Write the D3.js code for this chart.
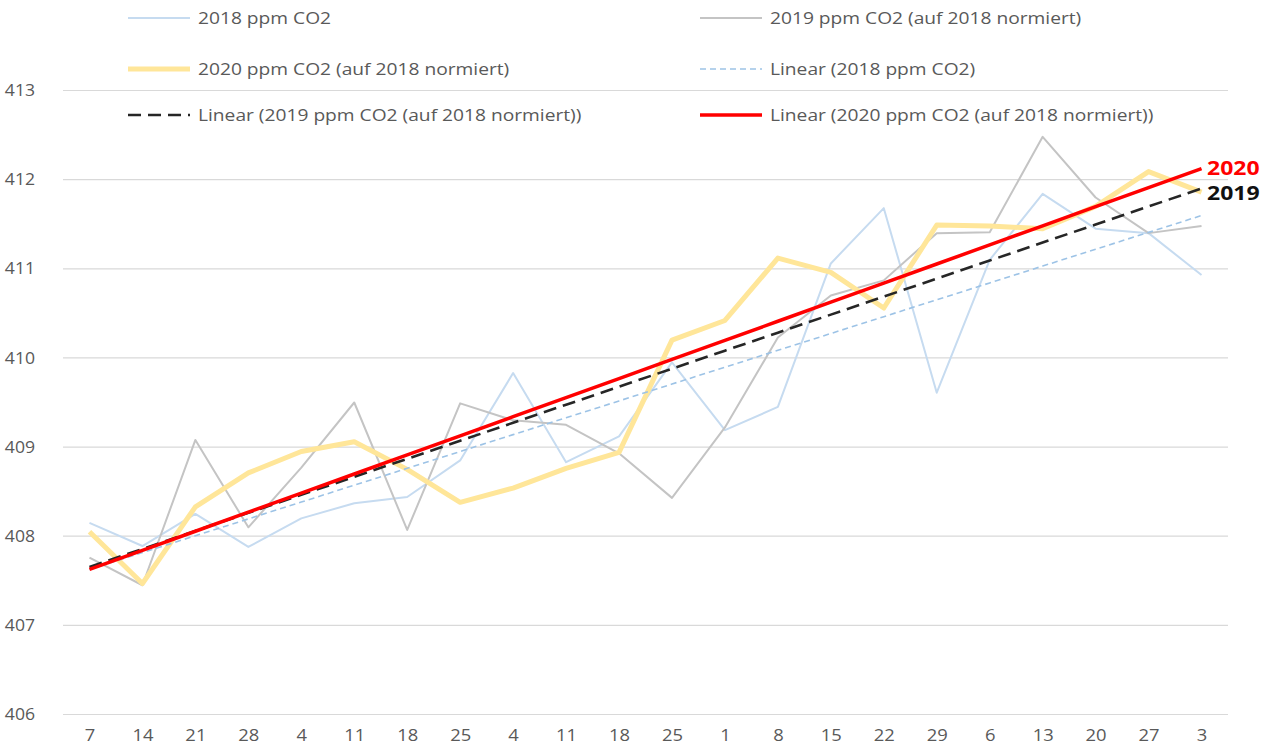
<!DOCTYPE html>
<html><head><meta charset="utf-8">
<script src="https://cdn.jsdelivr.net/npm/d3@7"></script>
<style>body{margin:0;background:#fff;}svg{display:block;}text{font-family:"Open Sans",sans-serif;}</style>
</head><body>
<svg id="c" width="1273" height="753"></svg>
<script>
const categories = ["7","14","21","28","4","11","18","25","4","11","18","25","1","8","15","22","29","6","13","20","27","3"];
const s2018 = [408.15,407.89,408.25,407.88,408.2,408.37,408.44,408.85,409.83,408.83,409.12,409.95,409.19,409.45,411.06,411.68,409.61,411.1,411.84,411.45,411.4,410.93];
const s2019 = [407.76,407.45,409.08,408.1,408.77,409.5,408.07,409.49,409.3,409.25,408.93,408.43,409.22,410.23,410.7,410.87,411.4,411.41,412.48,411.8,411.4,411.48];
const s2020 = [408.05,407.47,408.33,408.71,408.95,409.06,408.75,408.38,408.54,408.76,408.94,410.2,410.42,411.12,410.96,410.56,411.49,411.48,411.45,411.7,412.09,411.86];
const yTicks = [406,407,408,409,410,411,412,413];
const legendLabels = ["2018 ppm CO2","2019 ppm CO2 (auf 2018 normiert)","2020 ppm CO2 (auf 2018 normiert)","Linear (2018 ppm CO2)","Linear (2019 ppm CO2 (auf 2018 normiert))","Linear (2020 ppm CO2 (auf 2018 normiert))"];

const svg = d3.select("#c");
const L = 63, R = 1228, T = 90.5, B = 714.5;
const x = d3.scalePoint().domain(d3.range(categories.length)).range([L, R]).padding(0.5);
const y = d3.scaleLinear().domain([406, 413]).range([B, T]);

// gridlines
svg.append("g").selectAll("line").data(yTicks).join("line")
  .attr("x1", L).attr("x2", R).attr("y1", d => y(d)).attr("y2", d => y(d))
  .attr("stroke", "#d9d9d9").attr("stroke-width", 1.2);

// y labels
const yAxis = d3.axisLeft(y).tickValues(yTicks).tickFormat(d3.format("d")).tickSize(0).tickPadding(0);
const gy = svg.append("g").attr("transform", "translate(35,0)").call(yAxis);
gy.select(".domain").remove();
gy.selectAll("text").attr("fill", "#595959").style("font-size", "16px").style("font-family", "Open Sans")
  .attr("transform", "scale(1.1,1)");

// x labels
const xAxis = d3.axisBottom(x).tickFormat(i => categories[i]).tickSize(0).tickPadding(0);
const gx = svg.append("g").attr("transform", "translate(0,730)").call(xAxis);
gx.select(".domain").remove();
gx.selectAll("text").attr("fill", "#595959").style("font-size", "16px").style("font-family", "Open Sans")
  .attr("transform", "scale(1.15,1)");

function fit(vals) {
  const n = vals.length, xs = d3.range(n);
  const mx = d3.mean(xs), my = d3.mean(vals);
  let num = 0, den = 0;
  xs.forEach((xi, k) => { num += (xi - mx) * (vals[k] - my); den += (xi - mx) ** 2; });
  const b = num / den, a = my - b * mx;
  return xs.map(xi => a + b * xi);
}
const line = d3.line().x((d, i) => x(i)).y(d => y(d));

const series = [
  {data: s2018, stroke: "#c6dbf0", w: 2, dash: null},
  {data: s2019, stroke: "#c4c4c4", w: 2, dash: null},
  {data: s2020, stroke: "#ffe699", w: 5, dash: null},
  {data: fit(s2018), stroke: "#9dc3e6", w: 1.6, dash: "6,4"},
  {data: fit(s2019), stroke: "#262626", w: 2.6, dash: "13,7"},
  {data: fit(s2020), stroke: "#ff0000", w: 3.5, dash: null}
];
series.forEach(s => {
  svg.append("path").datum(s.data).attr("d", line).attr("fill", "none")
    .attr("stroke", s.stroke).attr("stroke-width", s.w)
    .attr("stroke-dasharray", s.dash).attr("stroke-linejoin", "round");
});

// end labels
const f20 = fit(s2020), f19 = fit(s2019);
svg.append("text").attr("transform", `translate(1207,${y(f20[21]) + 6}) scale(1.15,1)`).text("2020")
  .attr("fill", "#ff0000").style("font-weight", "bold").style("font-size", "20px");
svg.append("text").attr("transform", `translate(1207,${y(f19[21]) + 12}) scale(1.15,1)`).text("2019")
  .attr("fill", "#111").style("font-weight", "bold").style("font-size", "20px");

// legend
const legPos = [[128, 18], [700, 18], [128, 69], [700, 69], [128, 115], [700, 115]];
series.forEach((s, i) => {
  const [lx, ly] = legPos[i];
  svg.append("line").attr("x1", lx).attr("x2", lx + 62).attr("y1", ly).attr("y2", ly)
    .attr("stroke", s.stroke).attr("stroke-width", s.w).attr("stroke-dasharray", s.dash);
  svg.append("text").attr("transform", `translate(${lx + 70},${ly + 6}) scale(1.2,1)`).text(legendLabels[i])
    .attr("fill", "#595959").style("font-size", "16px");
});
</script>
</body></html>
